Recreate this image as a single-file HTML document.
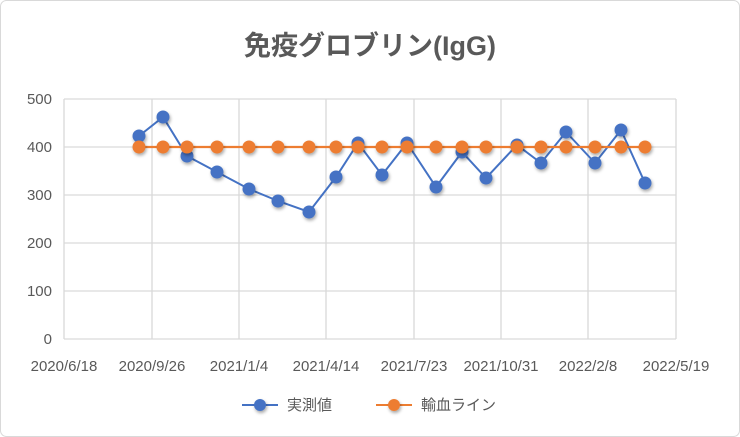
<!DOCTYPE html>
<html><head><meta charset="utf-8"><style>
body{margin:0;background:#fff}
svg{display:block;font-family:"Liberation Sans","Noto Sans CJK JP",sans-serif}
</style></head><body>
<svg width="740" height="437" viewBox="0 0 740 437">
<defs><filter id="s" x="-50%" y="-50%" width="200%" height="200%"><feDropShadow dx="1" dy="2" stdDeviation="1.5" flood-opacity="0.35"/></filter></defs>
<rect x="0.5" y="0.5" width="739" height="436" rx="6" fill="#fff" stroke="#d9d9d9"/>
<text x="370" y="55" text-anchor="middle" font-size="27" font-weight="bold" fill="#595959">免疫グロブリン(IgG)</text>
<g stroke="#d9d9d9" stroke-width="1.3">
<line x1="64" y1="99" x2="676" y2="99"/><line x1="64" y1="147" x2="676" y2="147"/><line x1="64" y1="195" x2="676" y2="195"/><line x1="64" y1="243" x2="676" y2="243"/><line x1="64" y1="291" x2="676" y2="291"/><line x1="64" y1="339" x2="676" y2="339"/>
<line x1="64" y1="99" x2="64" y2="339"/><line x1="152" y1="99" x2="152" y2="339"/><line x1="239" y1="99" x2="239" y2="339"/><line x1="326" y1="99" x2="326" y2="339"/><line x1="414" y1="99" x2="414" y2="339"/><line x1="501" y1="99" x2="501" y2="339"/><line x1="588" y1="99" x2="588" y2="339"/><line x1="676" y1="99" x2="676" y2="339"/>
</g>
<g font-size="15" fill="#595959" text-anchor="end">
<text x="52" y="104">500</text><text x="52" y="152">400</text><text x="52" y="200">300</text><text x="52" y="248">200</text><text x="52" y="296">100</text><text x="52" y="344">0</text>
</g>
<g font-size="15" fill="#595959" text-anchor="middle">
<text x="64" y="371">2020/6/18</text><text x="152" y="371">2020/9/26</text><text x="239" y="371">2021/1/4</text><text x="326" y="371">2021/4/14</text><text x="414" y="371">2021/7/23</text><text x="501" y="371">2021/10/31</text><text x="588" y="371">2022/2/8</text><text x="676" y="371">2022/5/19</text>
</g>
<polyline fill="none" stroke="#4472c4" stroke-width="2" points="139,136 163,117 187,156 217,172 249,189 278,201 309,212 336,177 358,143 382,175 407,143 436,187 462,152 486,178 517,145 541,163 566,132 595,163 621,130 645,183"/>
<g fill="#4472c4" filter="url(#s)">
<circle cx="139" cy="136" r="6.5"/><circle cx="163" cy="117" r="6.5"/><circle cx="187" cy="156" r="6.5"/><circle cx="217" cy="172" r="6.5"/><circle cx="249" cy="189" r="6.5"/><circle cx="278" cy="201" r="6.5"/><circle cx="309" cy="212" r="6.5"/><circle cx="336" cy="177" r="6.5"/><circle cx="358" cy="143" r="6.5"/><circle cx="382" cy="175" r="6.5"/><circle cx="407" cy="143" r="6.5"/><circle cx="436" cy="187" r="6.5"/><circle cx="462" cy="152" r="6.5"/><circle cx="486" cy="178" r="6.5"/><circle cx="517" cy="145" r="6.5"/><circle cx="541" cy="163" r="6.5"/><circle cx="566" cy="132" r="6.5"/><circle cx="595" cy="163" r="6.5"/><circle cx="621" cy="130" r="6.5"/><circle cx="645" cy="183" r="6.5"/>
</g>
<line x1="139" y1="147" x2="645" y2="147" stroke="#ed7d31" stroke-width="2.2"/>
<g fill="#ed7d31" filter="url(#s)">
<circle cx="139" cy="147" r="6.5"/><circle cx="163" cy="147" r="6.5"/><circle cx="187" cy="147" r="6.5"/><circle cx="217" cy="147" r="6.5"/><circle cx="249" cy="147" r="6.5"/><circle cx="278" cy="147" r="6.5"/><circle cx="309" cy="147" r="6.5"/><circle cx="336" cy="147" r="6.5"/><circle cx="358" cy="147" r="6.5"/><circle cx="382" cy="147" r="6.5"/><circle cx="407" cy="147" r="6.5"/><circle cx="436" cy="147" r="6.5"/><circle cx="462" cy="147" r="6.5"/><circle cx="486" cy="147" r="6.5"/><circle cx="517" cy="147" r="6.5"/><circle cx="541" cy="147" r="6.5"/><circle cx="566" cy="147" r="6.5"/><circle cx="595" cy="147" r="6.5"/><circle cx="621" cy="147" r="6.5"/><circle cx="645" cy="147" r="6.5"/>
</g>
<line x1="242" y1="405" x2="278" y2="405" stroke="#4472c4" stroke-width="2"/><circle cx="260" cy="405" r="6" fill="#4472c4" filter="url(#s)"/>
<text x="287" y="410" font-size="15" fill="#595959">実測値</text>
<line x1="376" y1="405" x2="412" y2="405" stroke="#ed7d31" stroke-width="2"/><circle cx="394" cy="405" r="6" fill="#ed7d31" filter="url(#s)"/>
<text x="421" y="410" font-size="15" fill="#595959">輸血ライン</text>
</svg>
</body></html>
